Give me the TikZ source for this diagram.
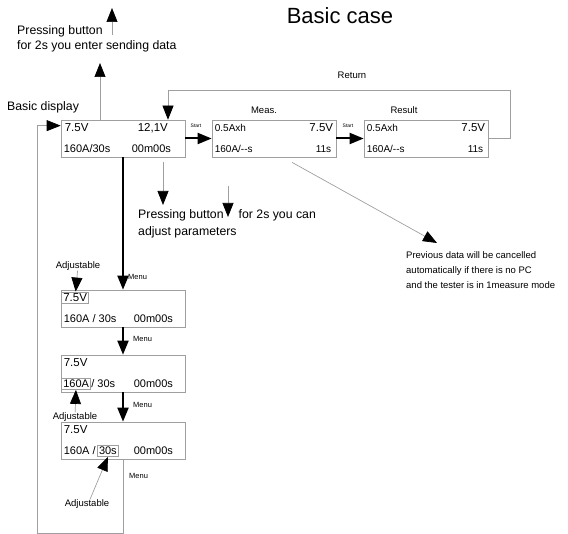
\documentclass[tikz,border=0pt]{standalone}
\usepackage{fontspec}
\setmainfont{Liberation Sans}
\usetikzlibrary{arrows.meta}

\begin{document}
\begin{tikzpicture}[x=1pt,y=-1pt,
    disp/.style={draw=gray!75, line width=0.7pt, minimum width=124pt, minimum height=37pt, inner sep=0pt},
    big/.style={inner sep=0pt, anchor=base west, font=\fontsize{11.5}{13}\selectfont},
    txt/.style={inner sep=0pt, anchor=base west, font=\fontsize{11}{13}\selectfont},
    sml/.style={inner sep=0pt, anchor=base west, font=\fontsize{10}{12}\selectfont},
    lab/.style={inner sep=0pt, font=\fontsize{9.5}{11}\selectfont},
    menu/.style={inner sep=0pt, anchor=west, font=\fontsize{7.5}{9}\selectfont},
    note/.style={inner sep=0pt, anchor=base west, font=\fontsize{12.3}{15}\selectfont},
    wire/.style={draw=gray!75, line width=0.7pt},
    thinarr/.style={wire, -{Triangle[width=11pt,length=14pt,color=black]}},
    thickarr/.style={line width=2pt, -{Triangle[width=11pt,length=14pt]}},
    framed/.style={draw=gray!75, line width=0.7pt, inner sep=1.8pt}]
  \useasboundingbox (0,0) rectangle (568,534);

  \node[font=\fontsize{22}{24}\selectfont] (title) at (340,16) {Basic case};

  % displays
  \node[disp] (b1) at (123,138.5) {};
  \node[disp] (meas) at (274,138.5) {};
  \node[disp] (res) at (426,138.5) {};
  \node[disp] (b2) at (123,308.5) {};
  \node[disp] (b3) at (123,373.5) {};
  \node[disp] (b4) at (123,440.5) {};

  \node[big] (b1v) at ([shift={(4,12)}]b1.north west) {7.5V};
  \node[big] (b1u) at ([shift={(77,12)}]b1.north west) {12,1V};
  \node[txt] (b1a) at ([shift={(3,33)}]b1.north west) {160A/30s};
  \node[txt] (b1t) at ([shift={(71,33)}]b1.north west) {00m00s};

  \node[sml] (ma) at ([shift={(3,12)}]meas.north west) {0.5Axh};
  \node[big, anchor=base east] (mv) at ([shift={(-3,12)}]meas.north east) {7.5V};
  \node[sml] (mb) at ([shift={(3,33)}]meas.north west) {160A/-{}-s};
  \node[sml, anchor=base east] (mt) at ([shift={(-5,33)}]meas.north east) {11s};

  \node[sml] (ra) at ([shift={(3,12)}]res.north west) {0.5Axh};
  \node[big, anchor=base east] (rv) at ([shift={(-3,12)}]res.north east) {7.5V};
  \node[sml] (rb) at ([shift={(3,33)}]res.north west) {160A/-{}-s};
  \node[sml, anchor=base east] (rt) at ([shift={(-5,33)}]res.north east) {11s};

  \node[big, framed] (b2v) at ([shift={(0.5,12)}]b2.north west) {7.5V};
  \node[txt] (b2a) at ([shift={(3,33)}]b2.north west) {160A / 30s};
  \node[txt] (b2t) at ([shift={(73,33)}]b2.north west) {00m00s};

  \node[big] (b3v) at ([shift={(3,12)}]b3.north west) {7.5V};
  \node[txt, framed] (b3f) at ([shift={(0.5,33)}]b3.north west) {160A};
  \node[txt] (b3a) at (b3f.base east) {/ 30s};
  \node[txt] (b3t) at ([shift={(73,33)}]b3.north west) {00m00s};

  \node[big] (b4v) at ([shift={(3,12)}]b4.north west) {7.5V};
  \node[txt] (b4a) at ([shift={(3,33)}]b4.north west) {160A /};
  \node[txt, framed] (b4f) at ([xshift=1pt]b4a.base east) {30s};
  \node[txt] (b4t) at ([shift={(73,33)}]b4.north west) {00m00s};

  % labels
  \node[note] (bd) at (7,111) {Basic display};
  \node[note] (pa1) at (17,35) {Pressing button};
  \node[note] (pa2) at (17,50) {for 2s you enter sending data};
  \node[note] (pb1) at (138,219) {Pressing button\hspace{15pt}for 2s you can};
  \node[note] (pb2) at (138,236) {adjust parameters};
  \node[lab] (mlab) at (264,110) {Meas.};
  \node[lab] (rlab) at (404,110) {Result};
  \node[lab] (ret) at (352,75) {Return};
  \node[lab, font=\fontsize{5}{6}\selectfont] (st1) at (196,126) {Start};
  \node[lab, font=\fontsize{5}{6}\selectfont] (st2) at (348,126) {Start};
  \node[sml, font=\fontsize{9.5}{11}\selectfont] (pv1) at (406,259) {Previous data will be cancelled};
  \node[sml, font=\fontsize{9.5}{11}\selectfont] (pv2) at (406,274) {automatically if there is no PC};
  \node[sml, font=\fontsize{9.5}{11}\selectfont] (pv3) at (406,289) {and the tester is in 1measure mode};
  \node[menu] (m1) at (128,277) {Menu};
  \node[menu] (m2) at (133,339) {Menu};
  \node[menu] (m3) at (133,405) {Menu};
  \node[menu] (m4) at (129,476) {Menu};
  \node[lab] (adj1) at (78,266) {Adjustable};
  \node[lab] (adj2) at (75,417) {Adjustable};
  \node[lab] (adj3) at (87,504) {Adjustable};

  % free ends
  \coordinate (s1) at (112,35);
  \coordinate (s1e) at (112,8);
  \coordinate (up) at (100,63);
  \coordinate (rc) at (168,90);
  \coordinate (p1) at (163,162);
  \coordinate (p2) at (163,205);
  \coordinate (q1) at (228,186);
  \coordinate (q2) at (228,217);
  \coordinate (pvt) at (437,243);
  \coordinate (lp) at (37,533);

  % connectors
  \draw[thinarr] (s1) -- (s1e);
  \draw[thinarr] (b1.north -| up) -- (up);
  \draw[thinarr] (p1) -- (p2);
  \draw[thinarr] (q1) -- (q2);
  \draw[thinarr] ([shift={(18,5)}]meas.south) -- (pvt);
  \draw[thinarr] (res.east) -- ++(22,0) |- (rc) -- (rc |- b1.north);
  \draw[thickarr] (b1.east) -- (meas.west);
  \draw[thickarr] (meas.east) -- (res.west);
  \draw[thickarr] (b1.south) -- (b2.north);
  \draw[thickarr] (b2.south) -- (b3.north);
  \draw[thickarr] (b3.south) -- (b4.north);
  \draw[thinarr] (adj1) -- (b2v);
  \draw[thinarr] (adj2) -- (b3f);
  \draw[thinarr] ([xshift=3pt]adj3.north) -- (b4f.south);
  \draw[thinarr] (b4.south) |- (lp) |- ([yshift=-6pt]b1.north west);
\end{tikzpicture}
\end{document}
